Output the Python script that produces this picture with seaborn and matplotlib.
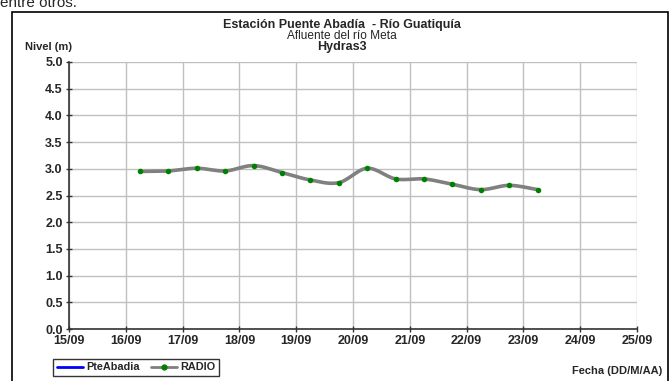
"""Nivel del río Guatiquía en la estación Puente Abadía (Hydras3)."""

import matplotlib
matplotlib.use("Agg")
import matplotlib.dates as mdates
import matplotlib.pyplot as plt
import numpy as np
import pandas as pd
import seaborn as sns
from matplotlib.lines import Line2D
from matplotlib.patches import Rectangle

# lecturas RADIO cada 12 horas
fechas = ["2010-09-16 06:00", "2010-09-16 18:00", "2010-09-17 06:00", "2010-09-17 18:00",
          "2010-09-18 06:00", "2010-09-18 18:00", "2010-09-19 06:00", "2010-09-19 18:00",
          "2010-09-20 06:00", "2010-09-20 18:00", "2010-09-21 06:00", "2010-09-21 18:00",
          "2010-09-22 06:00", "2010-09-22 18:00", "2010-09-23 06:00"]
nivel_radio = [2.95, 2.96, 3.01, 2.96, 3.06, 2.93, 2.79, 2.74,
               3.01, 2.81, 2.81, 2.71, 2.61, 2.69, 2.61]
nivel_pteabadia = []  # serie sin datos, solo aparece en la leyenda

eje_x = pd.date_range("2010-09-15", "2010-09-25", freq="D")
eje_y = [0.0, 0.5, 1.0, 1.5, 2.0, 2.5, 3.0, 3.5, 4.0, 4.5, 5.0]

df = pd.DataFrame({"fecha": pd.to_datetime(fechas), "nivel": nivel_radio})


def suavizar(x, y, pasos=16):
    """Curva suavizada tipo Excel (Bezier con tension 1/6)."""
    pts = np.column_stack([x, y])
    n = len(pts)
    t = np.linspace(0, 1, pasos)[:, None]
    tramos = []
    for i in range(n - 1):
        p0, p1 = pts[max(i - 1, 0)], pts[i]
        p2, p3 = pts[i + 1], pts[min(i + 2, n - 1)]
        c1 = p1 + (p2 - p0) / 6
        c2 = p2 - (p3 - p1) / 6
        b = ((1 - t) ** 3) * p1 + 3 * ((1 - t) ** 2) * t * c1 \
            + 3 * (1 - t) * t ** 2 * c2 + t ** 3 * p2
        tramos.append(b if i == 0 else b[1:])
    curva = np.vstack(tramos)
    return curva[:, 0], curva[:, 1]


sns.set_theme(style="white")
plt.rcParams["font.family"] = ["Liberation Sans", "DejaVu Sans"]

fig = plt.figure(figsize=(6.69, 3.81), dpi=100)
W, H = 669, 381
ax = fig.add_axes([69 / W, 1 - 329 / H, (637 - 69) / W, (329 - 62) / H])

xs, ys = suavizar(mdates.date2num(df["fecha"]), df["nivel"].to_numpy())
ax.plot(xs, ys, color="#808080", lw=2.6, solid_capstyle="round", zorder=3)
sns.scatterplot(data=df, x="fecha", y="nivel", color="#008000", s=16,
                edgecolor="#008000", linewidth=0, ax=ax, zorder=4, legend=False)

ax.set_xlim(eje_x[0], eje_x[-1])
ax.set_ylim(0, 5)
ax.set_xticks(eje_x)
ax.xaxis.set_major_formatter(mdates.DateFormatter("%d/%m"))
ax.set_yticks(eje_y)
ax.set_yticklabels([f"{v:.1f}" for v in eje_y])
ax.grid(True, color="#c0c0c0", lw=1)
ax.set_axisbelow(True)
ax.set_xlabel("")
ax.set_ylabel("")
for lado in ["top", "right"]:
    ax.spines[lado].set_visible(False)
for lado in ["left", "bottom"]:
    ax.spines[lado].set_color("#333333")
    ax.spines[lado].set_linewidth(1.2)
ax.tick_params(axis="both", direction="inout", length=5, width=1, color="#333333",
               labelsize=9, pad=2, bottom=True, left=True)
for lbl in ax.get_xticklabels() + ax.get_yticklabels():
    lbl.set_fontweight("bold")

fig.text(0, 1 - 7 / H, "entre otros.", fontsize=11, ha="left", va="baseline")
fig.patches.append(Rectangle((11.5 / W, -0.05), (668 - 11.5) / W, 1.05 - 11.5 / H,
                             transform=fig.transFigure, fill=False,
                             edgecolor="black", lw=1.2))

fig.text(342 / W, 1 - 25 / H, "Estación Puente Abadía  - Río Guatiquía",
         fontsize=9, fontweight="bold", ha="center", va="center")
fig.text(342 / W, 1 - 36 / H, "Afluente del río Meta", fontsize=8.6,
         ha="center", va="center")
fig.text(342 / W, 1 - 47 / H, "Hydras3", fontsize=9, fontweight="bold",
         ha="center", va="center")
fig.text(25 / W, 1 - 47 / H, "Nivel (m)", fontsize=8, fontweight="bold",
         ha="left", va="center")
fig.text(662 / W, 1 - 371 / H, "Fecha (DD/M/AA)", fontsize=8,
         fontweight="bold", ha="right", va="center")

handles = [Line2D([], [], color="#0000ff", lw=2),
           Line2D([], [], color="#808080", lw=2, marker="o", ms=3.5,
                  markerfacecolor="#008000", markeredgecolor="#008000")]
leg = fig.legend(handles, ["PteAbadia", "RADIO"], ncol=2, loc="center",
                 bbox_to_anchor=(136 / W, 1 - 367.5 / H), frameon=True,
                 fancybox=False, edgecolor="black", handlelength=2.4,
                 handletextpad=0.3, columnspacing=1.0, borderpad=0.35,
                 prop={"size": 7.8, "weight": "bold"})
leg.get_frame().set_linewidth(1)

fig.savefig("out.png", dpi=100)
